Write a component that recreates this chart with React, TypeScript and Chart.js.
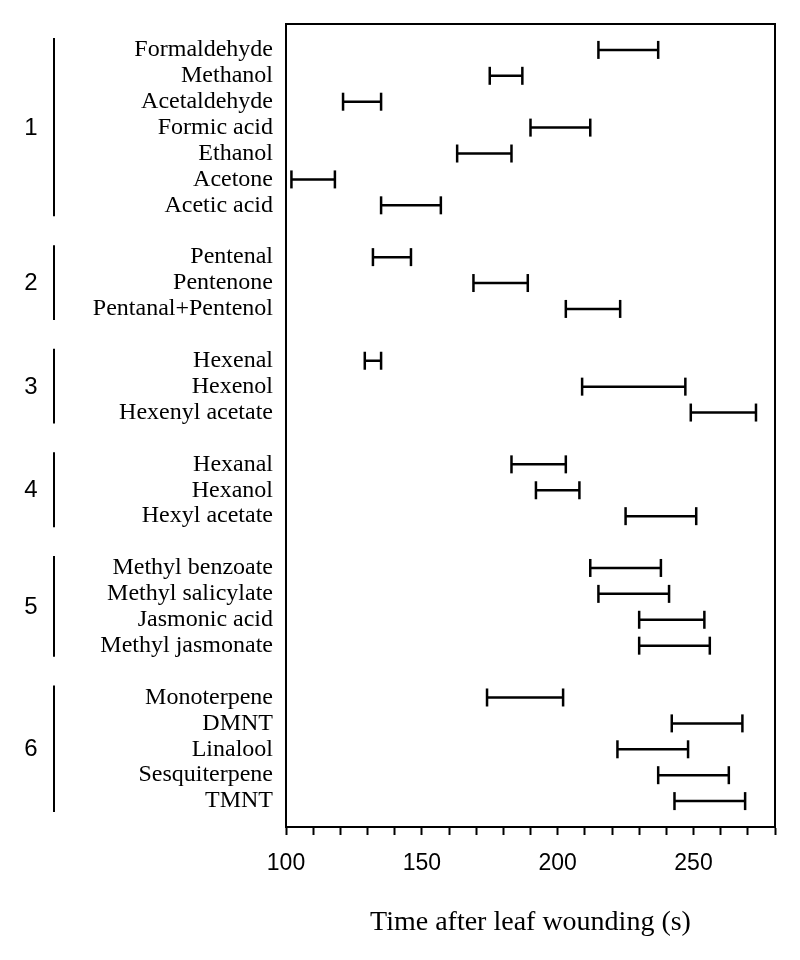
import React, { useEffect, useRef } from 'react';
import { Chart, registerables } from 'chart.js';

Chart.register(...registerables);

// ---- data ----
const groupNames = ['1', '2', '3', '4', '5', '6'];
const compounds = [
  'Formaldehyde', 'Methanol', 'Acetaldehyde', 'Formic acid', 'Ethanol', 'Acetone', 'Acetic acid',
  'Pentenal', 'Pentenone', 'Pentanal+Pentenol',
  'Hexenal', 'Hexenol', 'Hexenyl acetate',
  'Hexanal', 'Hexanol', 'Hexyl acetate',
  'Methyl benzoate', 'Methyl salicylate', 'Jasmonic acid', 'Methyl jasmonate',
  'Monoterpene', 'DMNT', 'Linalool', 'Sesquiterpene', 'TMNT',
];
const compoundGroup = [
  0, 0, 0, 0, 0, 0, 0,
  1, 1, 1,
  2, 2, 2,
  3, 3, 3,
  4, 4, 4, 4,
  5, 5, 5, 5, 5,
];
const startTimes = [
  215, 175, 121, 190, 163, 102, 135,
  132, 169, 203,
  129, 209, 249,
  183, 192, 225,
  212, 215, 230, 230,
  174, 242, 222, 237, 243,
];
const endTimes = [
  237, 187, 135, 212, 183, 118, 157,
  146, 189, 223,
  135, 247, 273,
  203, 208, 251,
  238, 241, 254, 256,
  202, 268, 248, 263, 269,
];
const xMin = 100;
const xMax = 280;
const xMinorStep = 10;
const xLabelStep = 50;
const xTitle = 'Time after leaf wounding (s)';

// row positions: one empty row between groups, one padding row at each end
const rowPositions = compounds.map((_, i) => i + compoundGroup[i] + 1);
const yMax = rowPositions[rowPositions.length - 1] + 1;

const labelByPos: Record<number, string> = {};
rowPositions.forEach((p, i) => { labelByPos[p] = compounds[i]; });

const groupPlugin = {
  id: 'frameAndGroups',
  afterDraw(chart: any) {
    const { ctx, chartArea, scales } = chart;
    const y = scales.y;
    ctx.save();
    ctx.strokeStyle = '#000';
    ctx.fillStyle = '#000';
    ctx.lineWidth = 2;
    ctx.beginPath();
    ctx.moveTo(chartArea.left, chartArea.top);
    ctx.lineTo(chartArea.right, chartArea.top);
    ctx.lineTo(chartArea.right, chartArea.bottom);
    ctx.stroke();
    groupNames.forEach((g, gi) => {
      const rows = rowPositions.filter((_, i) => compoundGroup[i] === gi);
      const y0 = y.getPixelForValue(Math.min(...rows)) - 12;
      const y1 = y.getPixelForValue(Math.max(...rows)) + 11;
      ctx.beginPath();
      ctx.moveTo(54, y0);
      ctx.lineTo(54, y1);
      ctx.stroke();
      ctx.font = '24px "Liberation Sans", Arial, sans-serif';
      ctx.textAlign = 'center';
      ctx.textBaseline = 'middle';
      ctx.fillText(g, 31, (y0 + y1) / 2 + 1);
    });
    ctx.restore();
  },
};

export default function App() {
  const ref = useRef<HTMLCanvasElement>(null);
  useEffect(() => {
    document.body.style.margin = '0';
    const datasets = compounds.map((name, i) => ({
      label: name,
      data: [
        { x: startTimes[i], y: rowPositions[i] },
        { x: endTimes[i], y: rowPositions[i] },
      ],
      showLine: true,
      borderColor: '#000',
      backgroundColor: '#000',
      borderWidth: 2.5,
      pointStyle: 'line',
      rotation: 90,
      pointRadius: 9,
      pointHoverRadius: 9,
      pointBorderWidth: 2.5,
      pointBorderColor: '#000',
      clip: false,
    }));
    const chart = new Chart(ref.current!, {
      type: 'scatter',
      data: { datasets } as any,
      options: {
        animation: false,
        responsive: false,
        layout: { padding: { left: 0, right: 25, top: 24, bottom: 0 } },
        plugins: { legend: { display: false }, tooltip: { enabled: false } },
        scales: {
          x: {
            type: 'linear',
            min: xMin,
            max: xMax,
            afterFit: (s: any) => { s.height = 133; s.paddingLeft = 0; s.paddingRight = 0; },
            ticks: {
              stepSize: xMinorStep,
              autoSkip: false,
              maxRotation: 0,
              color: '#000',
              padding: 15,
              font: { family: '"Liberation Sans", Arial, sans-serif', size: 23 },
              callback: (v: any) => (Number(v) % xLabelStep === 0 ? String(v) : ''),
            },
            grid: {
              display: true,
              drawOnChartArea: false,
              drawTicks: true,
              tickLength: 8,
              tickColor: '#000',
              tickWidth: 2,
            },
            border: { display: true, color: '#000', width: 2 },
            title: {
              display: true,
              text: xTitle,
              color: '#000',
              font: { family: '"Liberation Serif", "Times New Roman", serif', size: 28 },
              padding: { top: 0, bottom: 21 },
            },
          },
          y: {
            type: 'linear',
            reverse: true,
            min: 0,
            max: yMax,
            afterFit: (s: any) => { s.width = 286; s.paddingTop = 0; s.paddingBottom = 0; },
            afterBuildTicks: (s: any) => { s.ticks = rowPositions.map((p) => ({ value: p })); },
            ticks: {
              autoSkip: false,
              color: '#000',
              padding: 13,
              font: { family: '"Liberation Serif", "Times New Roman", serif', size: 24 },
              callback: (v: any) => labelByPos[Number(v)] ?? '',
            },
            grid: { display: false, drawTicks: false },
            border: { display: true, color: '#000', width: 2 },
          },
        },
      },
      plugins: [groupPlugin],
    });
    return () => chart.destroy();
  }, []);
  return (
    <div style={{ position: 'absolute', left: 0, top: 0, width: 800, height: 960 }}>
      <canvas ref={ref} width={800} height={960} />
    </div>
  );
}
